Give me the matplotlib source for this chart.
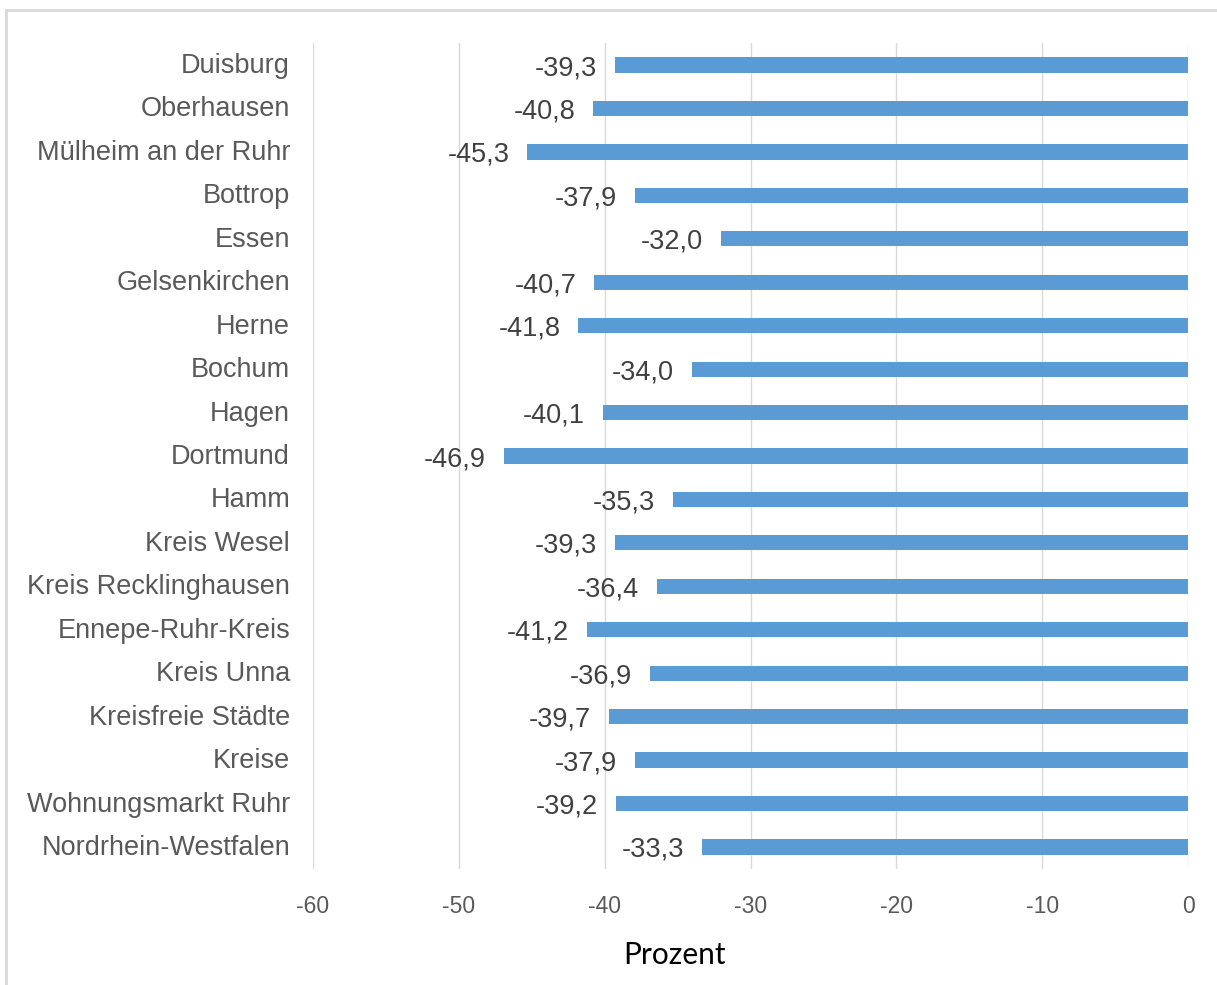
import matplotlib
matplotlib.use("Agg")
import matplotlib.pyplot as plt
import matplotlib.transforms as mtransforms
from matplotlib.lines import Line2D

# Regions and relative change (percent)
regions = [
    "Duisburg", "Oberhausen", "Mülheim an der Ruhr", "Bottrop", "Essen",
    "Gelsenkirchen", "Herne", "Bochum", "Hagen", "Dortmund", "Hamm",
    "Kreis Wesel", "Kreis Recklinghausen", "Ennepe-Ruhr-Kreis", "Kreis Unna",
    "Kreisfreie Städte", "Kreise", "Wohnungsmarkt Ruhr", "Nordrhein-Westfalen",
]
values = [
    -39.3, -40.8, -45.3, -37.9, -32.0,
    -40.7, -41.8, -34.0, -40.1, -46.9, -35.3,
    -39.3, -36.4, -41.2, -36.9,
    -39.7, -37.9, -39.2, -33.3,
]
x_ticks = [-60, -50, -40, -30, -20, -10, 0]
x_label = "Prozent"

W, H, DPI = 1217, 985, 100
fig = plt.figure(figsize=(W / DPI, H / DPI), dpi=DPI)
fig.patch.set_facecolor("white")

left, right = 313 / W, 1188 / W
top, bottom = 1 - 43.3 / H, 1 - 868.7 / H
ax = fig.add_axes([left, bottom, right - left, top - bottom])

bar_color = "#5B9BD5"
grid_color = "#D9D9D9"
font = "Liberation Sans"

pos = list(range(len(regions)))
ax.barh(pos, values, height=0.35, color=bar_color, zorder=3)

for p, v in zip(pos, values):
    ax.annotate(f"{v:.1f}".replace(".", ","), xy=(v, p), xytext=(-18, -3),
                textcoords="offset pixels", ha="right", va="center",
                fontsize=19.5, color="#404040", family=font)

ax.set_xlim(-60, 0)
ax.set_ylim(len(regions) - 0.5, -0.5)
ax.set_xticks(x_ticks)
ax.set_xticklabels([str(t) for t in x_ticks], family=font, fontsize=16.5,
                   color="#595959")
ax.set_yticks(pos)
ax.set_yticklabels(regions, family=font, fontsize=19.5, color="#595959")
ax.tick_params(axis="x", length=0, pad=19)
ax.tick_params(axis="y", length=0, pad=16.5)

# Nudge region names slightly upward
lift = mtransforms.ScaledTranslation(0, 2 / DPI, fig.dpi_scale_trans)
for lbl in ax.get_yticklabels():
    lbl.set_transform(lbl.get_transform() + lift)

for s in ax.spines.values():
    s.set_visible(False)
ax.xaxis.grid(True, color=grid_color, linewidth=1.0, zorder=0)
ax.set_axisbelow(True)

fig.text(675 / W, 1 - 964 / H, x_label, ha="center", va="baseline",
         fontsize=21.5, family="Lato", color="black")

# Light frame along the top and left edges of the figure
fig.add_artist(Line2D([6 / W, 6 / W], [0, 1 - 9.5 / H],
                      transform=fig.transFigure, color=grid_color, linewidth=2))
fig.add_artist(Line2D([6 / W, 1], [1 - 9.5 / H, 1 - 9.5 / H],
                      transform=fig.transFigure, color=grid_color, linewidth=2))

fig.savefig("out.png", dpi=DPI)
